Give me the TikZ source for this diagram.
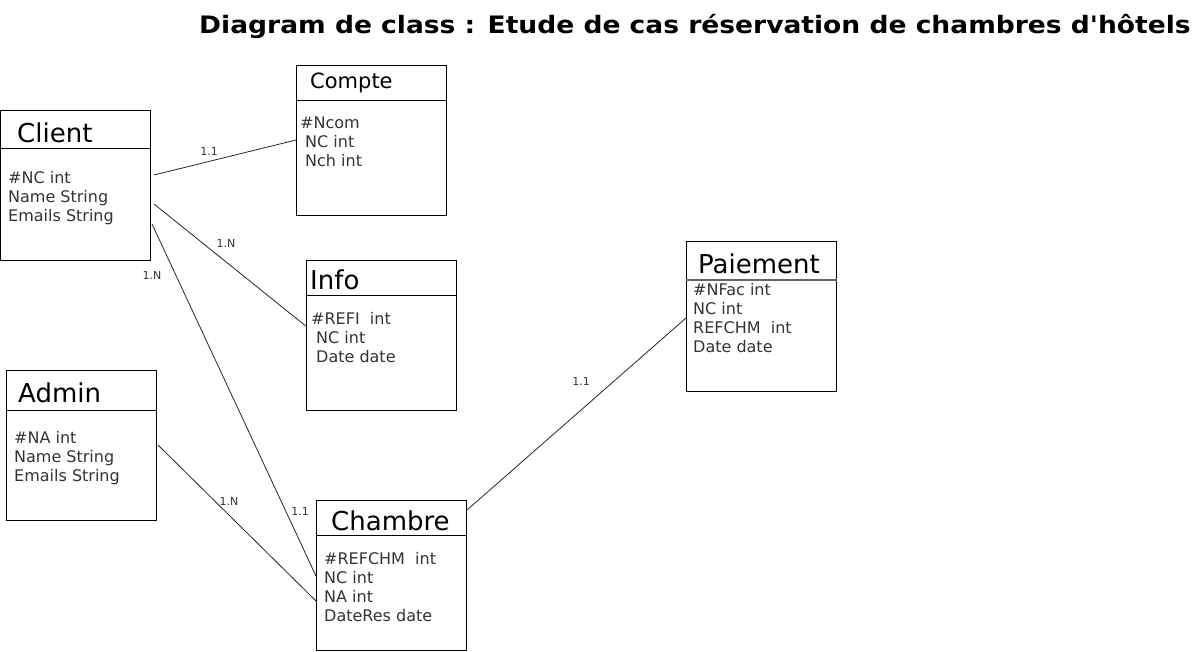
\documentclass[tikz,border=0pt]{standalone}
\usepackage{fontspec}
\setmainfont{DejaVu Sans}
\usetikzlibrary{calc}
\definecolor{txt}{HTML}{333333}
\tikzset{
 box/.style={draw, line width=1pt, minimum width=150pt, minimum height=150pt, anchor=north west, inner sep=0pt},
 ttl/.style={anchor=base west, inner sep=0pt, font=\fontsize{26}{30}\selectfont},
 attr/.style={anchor=base west, inner sep=0pt, text=txt, font=\fontsize{16}{19}\selectfont},
 lbl/.style={inner sep=0pt, text=txt, font=\fontsize{11}{13}\selectfont},
 conn/.style={line width=0.8pt, draw=black!85},
 hdr/.style={line width=1pt}
}
\begin{document}
\begin{tikzpicture}[x=1pt,y=-1pt]
\useasboundingbox (0,0) rectangle (1196,651);
% title
\node[anchor=base west, inner sep=0pt, font=\fontsize{24}{28}\selectfont\bfseries] (title) at (199,33) {\scalebox{1.105}[1]{Diagram de class : Etude de cas réservation de chambres d\textquotesingle hôtels}};
% boxes
\node[box] (client) at (0,110) {};
\node[box] (compte) at (296,65) {};
\node[box] (info) at (306,260) {};
\node[box] (admin) at (6,370) {};
\node[box] (chambre) at (316,500) {};
\node[box] (paiement) at (686,241) {};
% header lines
\draw[hdr] ($(client.north west)+(0,38)$) -- ($(client.north east)+(0,38)$);
\draw[hdr] ($(compte.north west)+(0,35)$) -- ($(compte.north east)+(0,35)$);
\draw[hdr] ($(info.north west)+(0,35)$) -- ($(info.north east)+(0,35)$);
\draw[hdr] ($(admin.north west)+(0,40)$) -- ($(admin.north east)+(0,40)$);
\draw[hdr] ($(chambre.north west)+(0,35)$) -- ($(chambre.north east)+(0,35)$);
\draw[line width=1.6pt, draw=black!60] ($(paiement.north west)+(0,39)$) -- ($(paiement.north east)+(0,39)$);
% titles
\node[ttl] (client-t) at (17,142) {Client};
\node[ttl, font=\fontsize{21}{25}\selectfont] (compte-t) at (310,88) {Compte};
\node[ttl] (info-t) at (310,289) {Info};
\node[ttl] (admin-t) at (18,402) {Admin};
\node[ttl] (chambre-t) at (331,530) {Chambre};
\node[ttl] (paiement-t) at (698,273) {Paiement};
% attributes
\node[attr] (client-a1) at (8,183) {\#NC int};
\node[attr] (client-a2) at (8,202) {Name String};
\node[attr] (client-a3) at (8,221) {Emails String};
\node[attr] (compte-a1) at (300,128) {\#Ncom};
\node[attr] (compte-a2) at (305,147) {NC int};
\node[attr] (compte-a3) at (305,166) {Nch int};
\node[attr] (info-a1) at (311,324) {\#REFI\ \ int};
\node[attr] (info-a2) at (316,343) {NC int};
\node[attr] (info-a3) at (316,362) {Date date};
\node[attr] (admin-a1) at (14,443) {\#NA int};
\node[attr] (admin-a2) at (14,462) {Name String};
\node[attr] (admin-a3) at (14,481) {Emails String};
\node[attr] (chambre-a1) at (324,564) {\#REFCHM\ \ int};
\node[attr] (chambre-a2) at (324,583) {NC int};
\node[attr] (chambre-a3) at (324,602) {NA int};
\node[attr] (chambre-a4) at (324,621) {DateRes date};
\node[attr] (paiement-a1) at (693,295) {\#NFac int};
\node[attr] (paiement-a2) at (693,314) {NC int};
\node[attr] (paiement-a3) at (693,333) {REFCHM\ \ int};
\node[attr] (paiement-a4) at (693,352) {Date date};
% connectors
\draw[conn] ($(client.north east)+(3,65)$) -- ($(compte.north west)+(0,75)$);
\draw[conn] ($(client.north east)+(3,94)$) -- ($(info.north west)+(1,67)$);
\draw[conn] ($(client.north east)+(1,114)$) -- ($(chambre.north west)+(0,76)$);
\draw[conn] ($(admin.north east)+(1,75)$) -- ($(chambre.north west)+(0,101)$);
\draw[conn] ($(chambre.north east)+(0,10)$) -- ($(paiement.north west)+(0,77)$);
% labels
\node[lbl] (l1) at (209,151) {1.1};
\node[lbl] (l2) at (226,243) {1.N};
\node[lbl] (l3) at (152,275) {1.N};
\node[lbl] (l4) at (229,501) {1.N};
\node[lbl] (l5) at (300,511) {1.1};
\node[lbl] (l6) at (581,381) {1.1};
\end{tikzpicture}
\end{document}
